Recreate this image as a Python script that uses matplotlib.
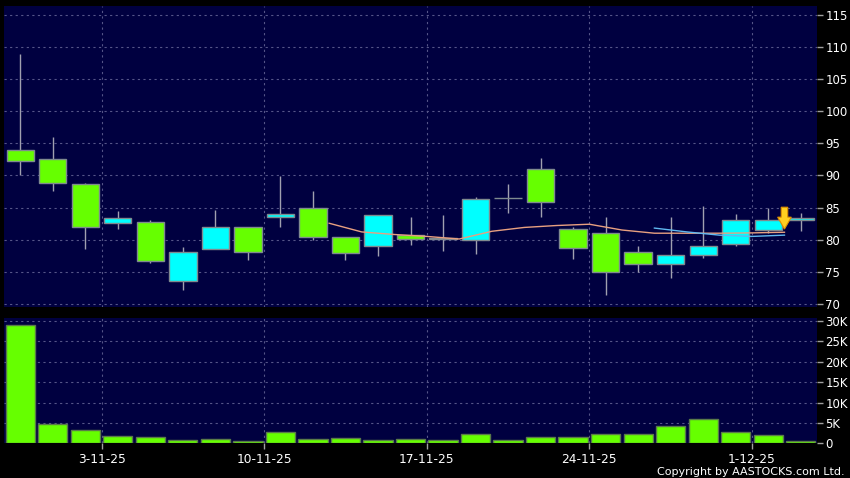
import matplotlib
matplotlib.use("Agg")
import matplotlib.pyplot as plt
from matplotlib.patches import FancyArrow
import numpy as np

# ---- data ----
opens  = [93.9, 92.5, 88.6, 82.6, 82.8, 73.5, 78.5, 82.0, 83.5, 85.0, 80.4, 79.0, 80.7,
          80.1, 79.9, 86.45, 91.0, 81.6, 81.0, 78.0, 76.2, 77.6, 79.3, 81.5, 83.0]
closes = [92.2, 88.8, 81.9, 83.4, 76.6, 78.1, 82.0, 78.0, 84.0, 80.4, 77.9, 83.8, 80.1,
          80.3, 86.4, 86.45, 85.8, 78.7, 75.0, 76.2, 77.6, 79.0, 83.0, 83.0, 83.4]
highs  = [108.9, 96.0, 88.8, 84.5, 83.1, 78.8, 84.6, 82.0, 89.9, 87.6, 80.4, 83.8, 83.5,
          83.85, 86.7, 88.7, 92.7, 82.0, 83.5, 79.0, 83.5, 85.2, 84.0, 84.9, 84.1]
lows   = [90.1, 87.5, 78.5, 81.7, 76.4, 72.1, 78.5, 76.9, 82.0, 80.0, 76.9, 77.4, 79.2,
          78.3, 77.8, 84.2, 83.6, 77.0, 71.4, 75.0, 74.0, 77.1, 79.0, 81.0, 81.4]
volumes = [29000, 4820, 3270, 1800, 1470, 900, 1140, 650, 2700, 1140, 1300, 820, 980,
           740, 2200, 900, 1470, 1470, 2370, 2200, 4250, 6050, 2780, 2040, 490]

ma_a_pos = [9.5, 10.5, 11.5, 12.5, 13.5, 14.5, 15.5, 16.5, 17.5, 18.5, 19.5, 20.5, 21.5, 22.5, 23.5]
ma_a = [82.55, 81.2, 80.8, 80.5, 80.1, 81.3, 81.9, 82.2, 82.4, 81.5, 81.0, 81.0, 81.0, 81.05, 81.15]
ma_b_pos = [19.5, 20.5, 21.5, 22.5, 23.5]
ma_b = [81.8, 81.2, 80.7, 80.5, 80.7]

date_ticks = [2.5, 7.5, 12.5, 17.5, 22.5]
date_labels = ["3-11-25", "10-11-25", "17-11-25", "24-11-25", "1-12-25"]
price_ticks = [70, 75, 80, 85, 90, 95, 100, 105, 110, 115]
vol_ticks = [0, 5000, 10000, 15000, 20000, 25000, 30000]
vol_labels = ["0", "5K", "10K", "15K", "20K", "25K", "30K"]

# ---- style ----
BG = "#000040"
GREEN = "#66ff00"
CYAN = "#00ffff"
EDGE = "#7f8a8f"
WICK = "#a0a0b0"
GRID = "#555588"

fig = plt.figure(figsize=(8.5, 4.78), dpi=100, facecolor="black")
ax = fig.add_axes([4/850, 1-306.7/478, 813/850, 300.7/478])
axv = fig.add_axes([4/850, 1-443.3/478, 813/850, 125/478])

x = np.arange(len(opens))
for a in (ax, axv):
    a.set_facecolor(BG)
    for s in a.spines.values():
        s.set_visible(False)
    a.set_xlim(-0.5, 24.5)
    a.set_xticks(date_ticks)
    a.grid(True, color=GRID, linestyle=(0, (2, 3)), linewidth=0.8)
    a.set_axisbelow(True)
    a.yaxis.tick_right()
    a.tick_params(axis="y", colors="#a0a0a0", labelcolor="white", length=4,
                  width=1, labelsize=8.5, pad=2)
    a.tick_params(axis="x", colors="#a0a0a0", labelcolor="white", length=4,
                  width=1, labelsize=8.8, pad=3)

# candles
opens_a = np.array(opens); closes_a = np.array(closes)
up = closes_a >= opens_a
colors = [CYAN if u else GREEN for u in up]
ax.vlines(x, lows, highs, color=WICK, linewidth=1, zorder=2)
bottoms = np.minimum(opens_a, closes_a)
heights = np.abs(closes_a - opens_a)
ax.bar(x, heights, bottom=bottoms, width=0.84, color=colors, edgecolor=EDGE,
       linewidth=1, zorder=3)

ax.plot(ma_a_pos, ma_a, color="#e8a080", linewidth=1, zorder=4)
ax.plot(ma_b_pos, ma_b, color="#60b8f0", linewidth=1, zorder=4)

# yellow arrow marker
arr = FancyArrow(23.5, ma_a[-1] + 3.9, 0, -3.4, width=0.2, head_width=0.42,
                 head_length=1.85, length_includes_head=True,
                 facecolor="#ffd020", edgecolor="#e09000", linewidth=0.8, zorder=5)
ax.add_patch(arr)

ax.set_ylim(69.55, 116.4)
ax.set_yticks(price_ticks)
ax.set_yticklabels([str(t) for t in price_ticks])
ax.tick_params(axis="x", labelbottom=False, length=0)

# volume
axv.bar(x, volumes, width=0.9, color=GREEN, edgecolor="#5a7a4a", linewidth=1, zorder=3)
axv.set_ylim(0, 30660)
axv.set_yticks(vol_ticks)
axv.set_yticklabels(vol_labels)
axv.set_xticklabels(date_labels)

fig.text(0.994, 0.002, "Copyright by AASTOCKS.com Ltd.", color="white",
         fontsize=8.0, ha="right", va="bottom")

fig.savefig("out.png", dpi=100, facecolor="black")
